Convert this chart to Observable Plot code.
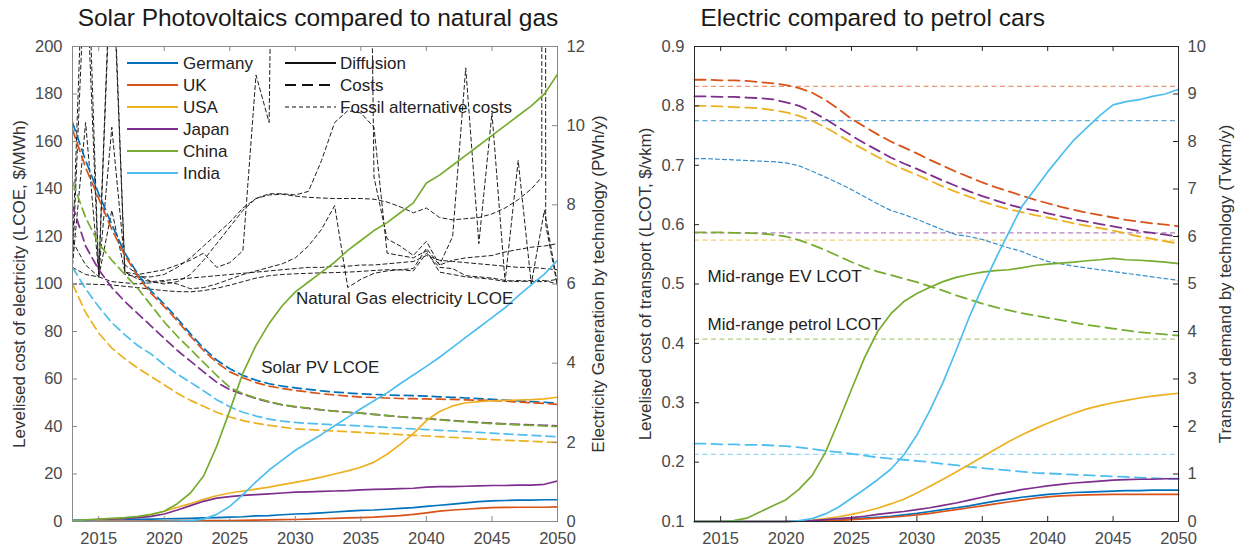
<!DOCTYPE html>
<html>
<head>
<meta charset="utf-8">
<script src="https://cdn.jsdelivr.net/npm/d3@7"></script>
<script src="https://cdn.jsdelivr.net/npm/@observablehq/plot@0.6"></script>
<style>
  html, body { margin: 0; padding: 0; background: #fff; }
  #wrap { display: flex; width: 1242px; height: 551px; }
  #wrap svg { display: block; }
</style>
</head>
<body>
<div id="wrap"></div>
<script>
// ---------- shared ----------
const years = d3.range(2013, 2051);
const countries = ["Germany", "UK", "USA", "Japan", "China", "India"];
const countryColors = ["#0072BD", "#D95319", "#EDB120", "#7E2F8E", "#77AC30", "#4DBEEE"];
const xTicks = [2015, 2020, 2025, 2030, 2035, 2040, 2045, 2050];

// ---------- Solar PV panel ----------
// Solar PV diffusion, electricity generation (PWh/y)
const pvGenGermany = [0.03,0.035,0.04,0.045,0.05,0.055,0.06,0.07,0.075,0.08,0.09,0.1,0.11,0.12,0.14,0.15,0.17,0.19,0.2,0.22,0.24,0.26,0.28,0.29,0.31,0.33,0.35,0.38,0.41,0.44,0.47,0.5,0.52,0.53,0.54,0.54,0.55,0.55];
const pvGenUK      = [0.005,0.005,0.01,0.01,0.01,0.01,0.015,0.015,0.02,0.02,0.02,0.02,0.025,0.03,0.035,0.04,0.045,0.05,0.06,0.07,0.08,0.09,0.1,0.11,0.13,0.15,0.18,0.22,0.26,0.29,0.31,0.33,0.35,0.355,0.36,0.36,0.36,0.37];
const pvGenUSA     = [0.01,0.02,0.04,0.06,0.08,0.11,0.17,0.26,0.36,0.45,0.56,0.65,0.72,0.77,0.82,0.87,0.93,0.99,1.05,1.12,1.2,1.28,1.37,1.5,1.7,1.95,2.22,2.55,2.78,2.92,3.0,3.03,3.05,3.06,3.07,3.08,3.1,3.14];
const pvGenJapan   = [0.02,0.03,0.05,0.06,0.08,0.1,0.13,0.19,0.29,0.4,0.51,0.59,0.63,0.66,0.68,0.7,0.72,0.74,0.75,0.76,0.77,0.78,0.8,0.81,0.82,0.83,0.84,0.87,0.88,0.88,0.89,0.9,0.91,0.91,0.92,0.92,0.94,1.02];
const pvGenChina   = [0.02,0.04,0.06,0.08,0.1,0.13,0.18,0.26,0.45,0.72,1.15,1.9,2.8,3.75,4.45,5.0,5.45,5.8,6.05,6.3,6.55,6.85,7.1,7.35,7.55,7.8,8.05,8.55,8.75,9.0,9.25,9.5,9.75,10.0,10.25,10.5,10.8,11.3];
const pvGenIndia   = [0,0,0,0,0,0,0,0.005,0.01,0.02,0.06,0.18,0.38,0.68,1.0,1.3,1.55,1.8,2.0,2.2,2.42,2.63,2.85,3.05,3.25,3.48,3.7,3.92,4.15,4.4,4.65,4.9,5.15,5.4,5.7,5.98,6.25,6.6];

// Solar PV levelised cost of electricity ($/MWh)
const pvCostGermany = [168,152,138,125,113,104,97,91.5,85.5,79,73,68,64.3,61.5,59.5,58,57,56.3,55.6,55,54.5,54.1,53.8,53.5,53.3,53.1,53,52.8,52.5,52.3,52,51.7,51.4,51.1,50.8,50.5,50.2,49.8];
const pvCostUK      = [165,149,136,123,112,103,96,90.5,84.5,78,72,67,63,60.5,58.5,57,56,55.2,54.5,53.8,53.3,52.8,52.4,52.2,52,51.8,51.7,51.6,51.5,51.4,51.2,51.1,50.9,50.7,50.3,50,49.7,49.3];
const pvCostUSA     = [100,88,79.3,73,68.5,64.5,61,57.5,54,51,48.5,46,44,42.5,41.4,40.5,39.7,39,38.7,38.4,38.1,37.8,37.5,37.2,36.9,36.6,36.3,36,35.7,35.4,35.1,34.8,34.5,34.2,34,33.8,33.5,33.3];
const pvCostJapan   = [133,116,106,98.5,92.6,87.4,82.3,77.1,72,67.5,63,58.6,55.5,53.6,51.8,50.3,49.1,48.3,47.6,47,46.5,46,45.6,45.1,44.6,44.1,43.7,43.3,42.9,42.5,42.1,41.7,41.4,41.1,40.9,40.7,40.5,40.3];
const pvCostChina   = [143,128,117,110,104,98,91,84,78,72.5,67,61.5,56.5,53.8,52,50.5,49.2,48.4,47.7,47,46.5,46,45.6,45.1,44.6,44.1,43.6,43.2,42.8,42.4,42,41.6,41.2,41,40.7,40.5,40.2,40];
const pvCostIndia   = [107,98,90.4,83.7,78.6,74,70.5,66,62,58.6,55,51.3,48.3,46,44.4,43.1,42.3,41.7,41.3,41,40.7,40.5,40.2,39.9,39.6,39.3,39,38.7,38.4,38.1,37.8,37.5,37.2,36.9,36.6,36.3,36,35.7];

// Natural gas electricity LCOE ($/MWh), one trajectory per region
const gasCostA = [100,100,99.8,99.6,99,98.5,97.8,97.2,96.8,96.7,97.2,98.2,99.5,101,102.5,103.5,104,104.3,104.5,104.7,104.8,105,105.3,105.7,106,106,105.5,113,107,106.5,103.5,103,102.5,101.5,101,101.5,101.5,100];
const gasCostB = [113,270,103,101,100.5,100,100.5,101,100,98,98.5,100,102,104,105.5,107,108.5,111,116,123,133,98.5,102,104.5,105.5,106,106.5,115,108,110,111,111.5,112,113.5,114.5,115.5,116,117];
const gasYearsC = [...d3.range(2013, 2049), 2048.8, 2048.95, 2049.1, 2050];
const gasCostC = [118,108,103,245,104,103,103,104,107,111,116,121,126,132,136,137.5,137.8,137,136.5,136.2,136,136,136,135.7,134.5,132.5,130,132,128,127,127.5,128,129.5,132,135.5,140,145,3000,125,99];
const gasCostD = [108,168,104,166,108,104,101,100,101,104,110,117,124,131,136,138,138,137.5,139,152,168,173,172,166,113,112,111,114,105,104,103,102.5,102,101,101.5,101,101,102];
const gasCostE = [108,240,104,250,105,104,105,106,108,110,113,107,109,114,188,168,600,600,600,600,600,600,600,145,119,116,112,118,108,120,191,117,172,101,152,100,131,100];
const gasCostF = [107,104,103,131,105,102,101,101.5,102,102.5,103,103.5,104,104.5,105,105.5,106,106.5,107,107,107.5,107.5,108,108,108.5,109,109.5,112,110,109.5,109,108.5,108,107.5,107,107,106.5,106];

const pvGen = [pvGenGermany, pvGenUK, pvGenUSA, pvGenJapan, pvGenChina, pvGenIndia];
const pvCost = [pvCostGermany, pvCostUK, pvCostUSA, pvCostJapan, pvCostChina, pvCostIndia];
const gasSeries = [
  [years, gasCostA], [years, gasCostB], [gasYearsC, gasCostC],
  [years, gasCostD], [years, gasCostE], [years, gasCostF]
];

const lcoeTicks = d3.range(0, 201, 20);
const genTicks = d3.range(0, 13, 2);

// ---------- EV panel ----------
// EV levelised cost of transport ($/vkm)
const evCostGermany = [0.711,0.711,0.71,0.709,0.708,0.707,0.706,0.704,0.699,0.69,0.68,0.67,0.659,0.647,0.635,0.624,0.617,0.609,0.6,0.591,0.583,0.58,0.575,0.568,0.561,0.555,0.546,0.538,0.534,0.53,0.527,0.524,0.521,0.518,0.515,0.512,0.509,0.506];
const evCostUK      = [0.844,0.844,0.843,0.843,0.842,0.84,0.838,0.835,0.83,0.822,0.81,0.795,0.778,0.765,0.752,0.74,0.73,0.72,0.709,0.699,0.689,0.68,0.671,0.663,0.656,0.649,0.642,0.636,0.63,0.625,0.62,0.616,0.612,0.608,0.605,0.602,0.6,0.597];
const evCostUSA     = [0.8,0.8,0.799,0.798,0.797,0.796,0.793,0.789,0.783,0.775,0.764,0.751,0.738,0.726,0.714,0.703,0.693,0.684,0.674,0.664,0.655,0.647,0.639,0.632,0.626,0.621,0.616,0.612,0.607,0.602,0.598,0.594,0.59,0.585,0.58,0.576,0.572,0.568];
const evCostJapan   = [0.816,0.816,0.815,0.815,0.814,0.813,0.811,0.806,0.8,0.79,0.778,0.764,0.75,0.737,0.725,0.713,0.703,0.694,0.684,0.674,0.665,0.656,0.648,0.641,0.634,0.628,0.624,0.619,0.614,0.609,0.605,0.601,0.597,0.593,0.589,0.586,0.583,0.58];
const evCostChina   = [0.587,0.587,0.587,0.586,0.586,0.585,0.583,0.58,0.574,0.566,0.557,0.547,0.537,0.528,0.521,0.515,0.509,0.503,0.496,0.489,0.481,0.474,0.467,0.461,0.456,0.451,0.447,0.443,0.439,0.435,0.431,0.428,0.425,0.422,0.419,0.417,0.415,0.413];
const evCostIndia   = [0.231,0.231,0.23,0.23,0.229,0.229,0.228,0.227,0.225,0.222,0.219,0.217,0.214,0.211,0.208,0.206,0.204,0.202,0.2,0.197,0.195,0.192,0.19,0.188,0.186,0.184,0.182,0.181,0.18,0.179,0.178,0.177,0.176,0.175,0.174,0.173,0.172,0.172];

// Petrol car levelised cost of transport ($/vkm), constant per region
const petrolCost = [0.775, 0.833, 0.574, 0.586, 0.407, 0.213];

// EV transport demand (Tvkm/y)
const evDemandGermany = [0,0,0,0,0,0,0,0,0.005,0.01,0.02,0.03,0.05,0.07,0.09,0.11,0.14,0.17,0.21,0.25,0.29,0.33,0.38,0.43,0.47,0.51,0.54,0.57,0.59,0.61,0.62,0.63,0.64,0.65,0.65,0.66,0.66,0.66];
const evDemandUK      = [0,0,0,0,0,0,0,0,0.005,0.01,0.015,0.025,0.04,0.055,0.07,0.09,0.11,0.14,0.17,0.21,0.25,0.29,0.33,0.37,0.41,0.45,0.49,0.52,0.54,0.55,0.56,0.565,0.57,0.57,0.57,0.57,0.57,0.57];
const evDemandUSA     = [0,0,0,0,0,0,0,0,0.01,0.03,0.06,0.1,0.15,0.21,0.28,0.37,0.47,0.6,0.74,0.89,1.04,1.2,1.36,1.52,1.68,1.82,1.95,2.07,2.18,2.28,2.37,2.44,2.5,2.55,2.6,2.64,2.67,2.7];
const evDemandJapan   = [0,0,0,0,0,0,0,0,0.01,0.02,0.04,0.06,0.08,0.11,0.15,0.18,0.21,0.25,0.29,0.34,0.39,0.45,0.51,0.57,0.62,0.67,0.71,0.75,0.78,0.81,0.83,0.85,0.87,0.88,0.89,0.89,0.9,0.9];
const evDemandChina   = [0,0,0,0.02,0.07,0.2,0.33,0.46,0.68,0.97,1.45,2.1,2.78,3.45,4.0,4.37,4.63,4.8,4.93,5.05,5.14,5.2,5.25,5.28,5.3,5.34,5.39,5.42,5.44,5.46,5.49,5.51,5.54,5.51,5.5,5.48,5.46,5.43];
const evDemandIndia   = [0,0,0,0,0,0,0,0,0.02,0.06,0.16,0.3,0.49,0.68,0.88,1.1,1.4,1.82,2.34,2.93,3.6,4.3,4.93,5.52,6.07,6.62,6.99,7.36,7.7,8.03,8.29,8.55,8.77,8.84,8.88,8.95,9.0,9.1];

const evCost = [evCostGermany, evCostUK, evCostUSA, evCostJapan, evCostChina, evCostIndia];
const evDemand = [evDemandGermany, evDemandUK, evDemandUSA, evDemandJapan, evDemandChina, evDemandIndia];

const lcotTicks = [0.1,0.2,0.3,0.4,0.5,0.6,0.7,0.8,0.9];
const demandTicks = d3.range(0, 11, 1);

// ---------- helpers ----------
const FONT = "'Liberation Sans', Arial, Helvetica, sans-serif";
const W = 621, H = 551, MT = 46, MB = 30;
const TICK_FONT = 16.5;
const toRows = (xs, vals, f = v => v) => xs.map((x, i) => ({x, y: f(vals[i])}));

function frameMarks({plotW, plotH, leftTicks, rightTicks, color}) {
  return [
    Plot.frame({stroke: color, strokeWidth: 1}),
    Plot.tickY(leftTicks, {y: d => d, insetRight: plotW - 5, stroke: color}),
    Plot.tickY(rightTicks, {y: d => d, insetLeft: plotW - 5, stroke: color}),
    Plot.tickX(xTicks, {x: d => d, insetTop: plotH - 5, stroke: color}),
    Plot.tickX(xTicks, {x: d => d, insetBottom: plotH - 5, stroke: color})
  ];
}

function axisMarks({leftTicks, leftFormat, rightTicks, rightFormat}) {
  return [
    Plot.axisX(xTicks, {tickSize: 0, tickPadding: 11, tickFormat: d => String(d), label: null, fontSize: TICK_FONT}),
    Plot.axisY(leftTicks, {anchor: "left", tickSize: 0, tickPadding: 10, tickFormat: leftFormat, label: null, fontSize: TICK_FONT}),
    Plot.axisY(rightTicks, {anchor: "right", tickSize: 0, tickPadding: 9, tickFormat: rightFormat, label: null, fontSize: TICK_FONT})
  ];
}

function axisTitle(text, side, offset) {
  return Plot.text([text], {
    text: d => d, frameAnchor: side, rotate: -90, dx: offset,
    textAnchor: "middle", lineAnchor: "middle", fontSize: 17, fill: "#333"
  });
}

// ---------- left chart: solar PV vs natural gas ----------
const kGen = 200 / 12; // PWh/y -> position on the LCOE axis
const pvML = 72, pvMR = 64;
const pvW = W - pvML - pvMR, plotH = H - MT - MB;

const pvChart = Plot.plot({
  width: W, height: H,
  marginTop: MT, marginBottom: MB, marginLeft: pvML, marginRight: pvMR,
  x: {domain: [2013, 2050]},
  y: {domain: [0, 200]},
  style: {fontFamily: FONT, fontSize: "16px", color: "#4a4a4a", background: "white", overflow: "visible"},
  marks: [
    ...gasSeries.map(([xs, vals]) => Plot.line(toRows(xs, vals), {
      x: "x", y: "y", stroke: "#1e1e1e", strokeWidth: 1, strokeDasharray: "4,3", clip: true
    })),
    ...pvCost.map((vals, i) => Plot.line(toRows(years, vals), {
      x: "x", y: "y", stroke: countryColors[i], strokeWidth: 1.7, strokeDasharray: "9,5", clip: true
    })),
    ...pvGen.map((vals, i) => Plot.line(toRows(years, vals, v => v * kGen), {
      x: "x", y: "y", stroke: countryColors[i], strokeWidth: 1.7, clip: true
    })),
    Plot.text([{x: 2030.05, y: 94, t: "Natural Gas electricity LCOE"}, {x: 2027.4, y: 65, t: "Solar PV LCOE"}], {
      x: "x", y: "y", text: "t", textAnchor: "start", fontSize: 17, fill: "#222"
    }),
    ...frameMarks({plotW: pvW, plotH, leftTicks: lcoeTicks, rightTicks: genTicks.map(v => v * kGen), color: "#8a8a8a"}),
    ...axisMarks({
      leftTicks: lcoeTicks, leftFormat: d => String(d),
      rightTicks: genTicks.map(v => v * kGen), rightFormat: d => String(Math.round(d / kGen))
    }),
    axisTitle("Levelised cost of electricity (LCOE, $/MWh)", "left", -53),
    axisTitle("Electricity Generation by technology (PWh/y)", "right", 41),
    Plot.text(["Solar Photovoltaics compared to natural gas"], {
      text: d => d, frameAnchor: "top", dy: -28, dx: 3, lineAnchor: "middle", fontSize: 24.5, fill: "#1a1a1a"
    })
  ]
});

// legend inside the axes, top-left
{
  const svg = d3.select(pvChart);
  const g = svg.append("g")
    .attr("font-family", FONT).attr("font-size", 17).attr("fill", "#222")
    .attr("text-anchor", "start");
  countries.forEach((c, i) => {
    const y = 63 + i * 22;
    g.append("line").attr("x1", 127).attr("x2", 178).attr("y1", y).attr("y2", y)
      .attr("stroke", countryColors[i]).attr("stroke-width", 2);
    g.append("text").attr("x", 183).attr("y", y).attr("dy", "0.35em").text(c);
  });
  const styles = [
    {label: "Diffusion", dash: null, w: 1.8},
    {label: "Costs", dash: "11,6", w: 1.8},
    {label: "Fossil alternative costs", dash: "4,3", w: 1}
  ];
  styles.forEach((s, i) => {
    const y = 63 + i * 22;
    const line = g.append("line").attr("x1", 285).attr("x2", 336).attr("y1", y).attr("y2", y)
      .attr("stroke", "#111").attr("stroke-width", s.w);
    if (s.dash) line.attr("stroke-dasharray", s.dash);
    g.append("text").attr("x", 340).attr("y", y).attr("dy", "0.35em").text(s.label);
  });
}

// ---------- right chart: electric vs petrol cars ----------
const kDem = 0.08; // Tvkm/y -> position on the LCOT axis
const evML = 73, evMR = 64;
const evW = W - evML - evMR;

const evChart = Plot.plot({
  width: W, height: H,
  marginTop: MT, marginBottom: MB, marginLeft: evML, marginRight: evMR,
  x: {domain: [2013, 2050]},
  y: {domain: [0.1, 0.9]},
  style: {fontFamily: FONT, fontSize: "16px", color: "#4a4a4a", background: "white", overflow: "visible"},
  marks: [
    ...petrolCost.map((v, i) => Plot.ruleY([v], {
      y: d => d, stroke: countryColors[i], strokeOpacity: 0.6, strokeWidth: 1.3, strokeDasharray: "5,3.5"
    })),
    Plot.line(toRows(years, evCostGermany), {
      x: "x", y: "y", stroke: countryColors[0], strokeOpacity: 0.8, strokeWidth: 1.2, strokeDasharray: "4,3"
    }),
    ...evCost.slice(1).map((vals, j) => Plot.line(toRows(years, vals), {
      x: "x", y: "y", stroke: countryColors[j + 1], strokeWidth: 1.8, strokeDasharray: "11,6"
    })),
    ...evDemand.map((vals, i) => Plot.line(toRows(years, vals, v => 0.1 + v * kDem), {
      x: "x", y: "y", stroke: countryColors[i], strokeWidth: 1.7
    })),
    Plot.text([{x: 2014.0, y: 0.513, t: "Mid-range EV LCOT"}, {x: 2014.0, y: 0.432, t: "Mid-range petrol LCOT"}], {
      x: "x", y: "y", text: "t", textAnchor: "start", fontSize: 17, fill: "#222"
    }),
    ...frameMarks({plotW: evW, plotH, leftTicks: lcotTicks, rightTicks: demandTicks.map(v => 0.1 + v * kDem), color: "#262626"}),
    ...axisMarks({
      leftTicks: lcotTicks, leftFormat: d => d.toFixed(1),
      rightTicks: demandTicks.map(v => 0.1 + v * kDem), rightFormat: d => String(Math.round((d - 0.1) / kDem))
    }),
    axisTitle("Levelised cost of transport (LCOT, $/vkm)", "left", -49),
    axisTitle("Transport demand by technology (Tvkm/y)", "right", 47),
    Plot.text(["Electric compared to petrol cars"], {
      text: d => d, frameAnchor: "top-left", dy: -28, dx: 6, textAnchor: "start", lineAnchor: "middle", fontSize: 24.5, fill: "#1a1a1a"
    })
  ]
});

const wrap = document.getElementById("wrap");
wrap.appendChild(pvChart);
wrap.appendChild(evChart);
</script>
</body>
</html>
